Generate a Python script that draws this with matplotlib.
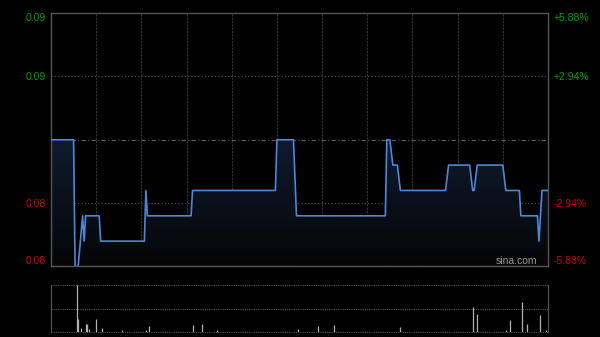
import matplotlib
matplotlib.use('Agg')
import matplotlib.pyplot as plt
import numpy as np
from matplotlib.colors import LinearSegmentedColormap

plt.rcParams['font.family'] = ['Liberation Sans', 'DejaVu Sans']

# intraday price (minutes from open, price) - step changes
minutes = [0, 15, 16, 18, 21, 22, 23, 32, 33, 62, 63, 64, 93, 94, 149, 150, 161, 163,
           222, 223, 225, 227, 230, 232, 262, 264, 278, 280, 281, 283, 300, 302, 311,
           312, 323, 324, 326, 330]
prices = [0.085, 0.085, 0.080, 0.080, 0.082, 0.081, 0.082, 0.082, 0.081, 0.081, 0.083,
          0.082, 0.082, 0.083, 0.083, 0.085, 0.085, 0.082, 0.082, 0.085, 0.085, 0.084,
          0.084, 0.083, 0.083, 0.084, 0.084, 0.083, 0.083, 0.084, 0.084, 0.083, 0.083,
          0.082, 0.082, 0.081, 0.083, 0.083]

# volume spikes
vol_minutes = [17, 18, 20, 23, 24, 25, 30, 34, 47, 63, 65, 94, 100, 110, 164, 177, 188,
               232, 280, 283, 302, 305, 313, 316, 325, 329]
volumes = [47, 13, 4, 8, 8, 3, 13, 4, 2, 2, 6, 7, 8, 2, 3, 6, 7, 5, 25, 18, 2, 12, 30,
           8, 17, 2]

prev_close = 0.085
price_ticks = [0.080, 0.0825, 0.0875, 0.090]
pct_labels = ['-5.88%', '-2.94%', '+2.94%', '+5.88%']

bg = '#000000'
fig = plt.figure(figsize=(6, 3.37), dpi=100, facecolor=bg)
ax = fig.add_axes([0.085, 0.2092, 0.8283, 0.7522], facecolor=bg)
axv = fig.add_axes([0.085, 0.0148, 0.8283, 0.1395], facecolor=bg)

ax.set_xlim(0, 330)
ax.set_ylim(0.080, 0.090)

# grid
for m in range(30, 330, 30):
    ax.axvline(m, color='#333333', lw=0.8, ls=(0, (2, 1)), zorder=1)
for p in [0.0825, 0.0875]:
    ax.axhline(p, color='#555555', lw=0.8, ls=(0, (1, 2)), zorder=1)
ax.axhline(prev_close, color='#5a5a5a', lw=0.8, ls=(0, (4, 2, 1, 2)), zorder=1)

# gradient fill under price line
poly = ax.fill_between(minutes, prices, 0.080, color='none')
cmap = LinearSegmentedColormap.from_list('f', ['#050608', '#0f1b2e'])
grad = np.linspace(0, 1, 100).reshape(-1, 1)
img = ax.imshow(grad, extent=[0, 330, 0.080, 0.085], aspect='auto', cmap=cmap,
                origin='lower', zorder=2)
img.set_clip_path(poly.get_paths()[0], transform=ax.transData)
ax.set_xlim(0, 330)
ax.set_ylim(0.080, 0.090)

ax.plot(minutes, prices, color='#4f86d8', lw=1.2, zorder=3)

for s in ax.spines.values():
    s.set_color('#555555')
    s.set_linewidth(1)

ax.set_xticks([])
ax.set_yticks(price_ticks)
ax.set_yticklabels(['%.2f' % p for p in price_ticks], fontsize=7.5)
ax.tick_params(axis='y', length=0, pad=4)

axr = ax.twinx()
axr.set_ylim(0.080, 0.090)
axr.set_yticks(price_ticks)
axr.set_yticklabels(pct_labels, fontsize=7.5)
axr.tick_params(axis='y', length=0, pad=4)
for s in axr.spines.values():
    s.set_visible(False)

for a in (ax, axr):
    labels = a.get_yticklabels()
    for lbl, p in zip(labels, price_ticks):
        lbl.set_color('#00a000' if p > prev_close else '#d00000')
    labels[0].set_va('bottom')
    labels[-1].set_va('top')

ax.text(0.978, 0.0, 'sina.com', transform=ax.transAxes, ha='right', va='bottom',
        color='#999999', fontsize=7.5, zorder=4)

# volume panel
axv.set_xlim(0, 330)
axv.set_ylim(0, 47)
for y in [0, 23.5, 47]:
    axv.axhline(y, color='#555555', lw=0.8, ls=(0, (1, 1)), clip_on=False)
axv.vlines(vol_minutes, 0, volumes, color='#b0b0b0', lw=0.9)
axv.spines['top'].set_visible(False)
axv.spines['bottom'].set_visible(False)
for s in ['left', 'right']:
    axv.spines[s].set_color('#555555')
axv.set_xticks([])
axv.set_yticks([])

fig.savefig('out.png', dpi=100, facecolor=bg)
